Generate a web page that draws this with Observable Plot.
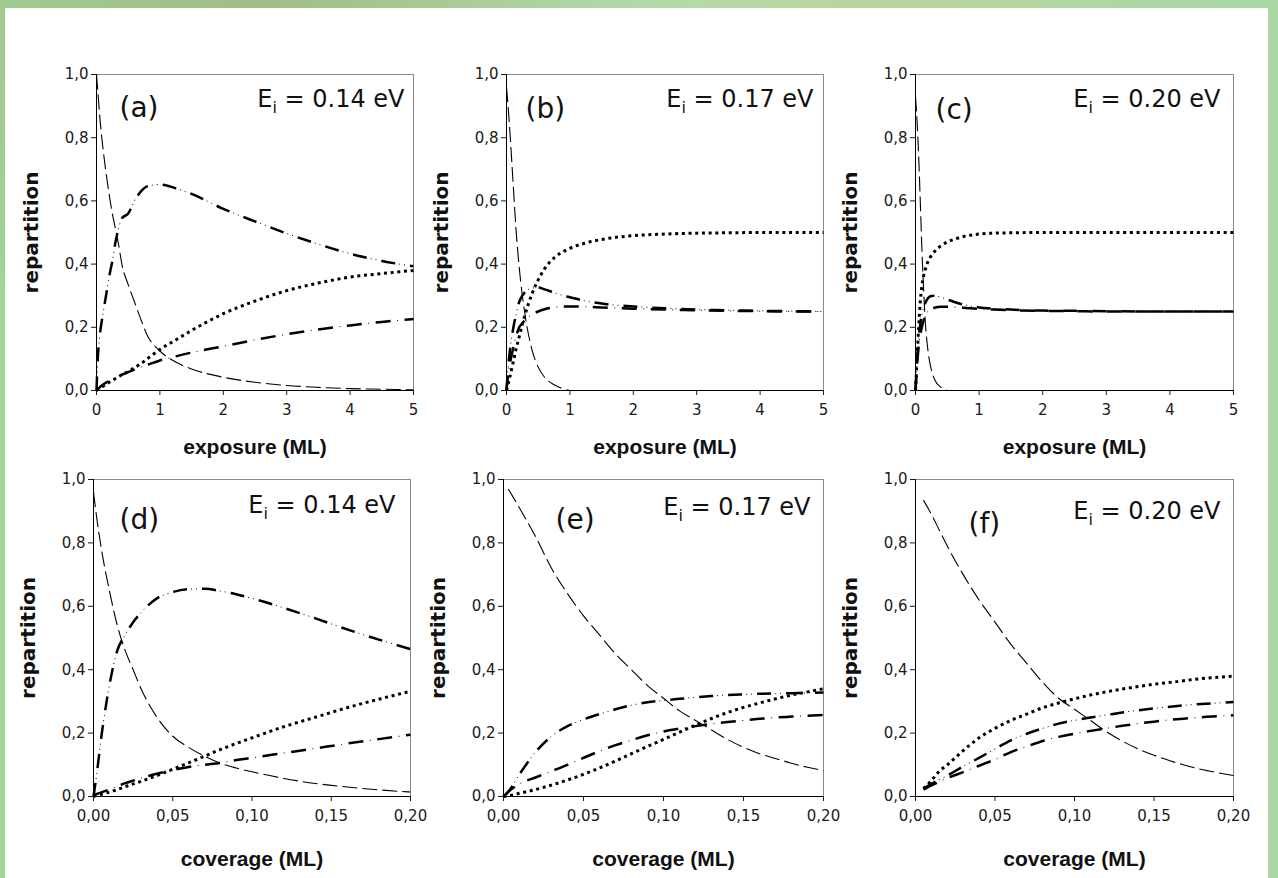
<!DOCTYPE html>
<html><head><meta charset="utf-8">
<script src="https://cdn.jsdelivr.net/npm/d3@7"></script>
<script src="https://cdn.jsdelivr.net/npm/@observablehq/plot@0.6"></script>
<style>
html,body{margin:0;padding:0;}
body{width:1278px;height:878px;overflow:hidden;
  background:
    radial-gradient(ellipse at 20% 0%, rgba(150,170,110,0.55), rgba(0,0,0,0) 30%),
    radial-gradient(ellipse at 70% 0%, rgba(190,210,150,0.6), rgba(0,0,0,0) 25%),
    linear-gradient(90deg,#a4d39c,#b6dcae 50%,#a8d6a4);}
#page{position:relative;width:1278px;height:878px;overflow:hidden;}
#sheet{position:absolute;left:5px;top:8px;width:1263px;height:870px;background:#fff;}
.panel{position:absolute;}
</style></head>
<body><div id="page"><div id="sheet"></div></div>
<script>
// ---------- labels ----------
const panelTags = ["(a)", "(b)", "(c)", "(d)", "(e)", "(f)"];
const energyValues = ["0.14 eV", "0.17 eV", "0.20 eV", "0.14 eV", "0.17 eV", "0.20 eV"];
const energySymbol = "E", energySub = "i";
const yLabel = "repartition";
const xLabelTop = "exposure (ML)";
const xLabelBottom = "coverage (ML)";
const yTicks = [0, 0.2, 0.4, 0.6, 0.8, 1.0];
const yTickLabels = ["0,0", "0,2", "0,4", "0,6", "0,8", "1,0"];
const xTicksTop = [0, 1, 2, 3, 4, 5];
const xTickLabelsTop = ["0", "1", "2", "3", "4", "5"];
const xTicksBottom = [0, 0.05, 0.10, 0.15, 0.20];
const xTickLabelsBottom = ["0,00", "0,05", "0,10", "0,15", "0,20"];

// ---------- panel (a): exposure, Ei = 0.14 eV ----------
const aX      = [0, 0.02, 0.05, 0.1, 0.15, 0.2, 0.25, 0.3, 0.35, 0.4, 0.5, 0.6, 0.7, 0.8, 1, 1.25, 1.5, 2, 2.5, 3, 3.5, 4, 4.5, 5];
const aDash   = [1.0, 0.95, 0.87, 0.77, 0.69, 0.62, 0.56, 0.51, 0.46, 0.40, 0.335, 0.28, 0.225, 0.175, 0.125, 0.09, 0.068, 0.042, 0.026, 0.016, 0.01, 0.006, 0.004, 0.002];
const aDDD    = [0, 0.1, 0.17, 0.24, 0.3, 0.36, 0.41, 0.47, 0.515, 0.545, 0.56, 0.6, 0.63, 0.646, 0.652, 0.64, 0.622, 0.575, 0.535, 0.497, 0.463, 0.433, 0.41, 0.393];
const aDot    = [0, 0.003, 0.007, 0.013, 0.02, 0.026, 0.032, 0.038, 0.044, 0.05, 0.06, 0.072, 0.085, 0.1, 0.13, 0.16, 0.19, 0.243, 0.283, 0.316, 0.34, 0.359, 0.37, 0.38];
const aDD     = [0, 0.004, 0.01, 0.018, 0.025, 0.03, 0.035, 0.04, 0.045, 0.05, 0.058, 0.066, 0.074, 0.081, 0.095, 0.108, 0.12, 0.14, 0.16, 0.178, 0.193, 0.206, 0.217, 0.226];

// ---------- panel (b): exposure, Ei = 0.17 eV ----------
const bX      = [0, 0.025, 0.05, 0.1, 0.15, 0.2, 0.25, 0.3, 0.4, 0.5, 0.6, 0.75, 0.9, 1, 1.25, 1.5, 2, 2.5, 3, 3.5, 4, 4.5, 5];
const bDash   = [0.96, 0.9, 0.83, 0.67, 0.51, 0.39, 0.3, 0.23, 0.13, 0.074, 0.042, 0.018, 0.005, 0, null, null, null, null, null, null, null, null, null];
const bDDD    = [0, 0.07, 0.12, 0.19, 0.24, 0.28, 0.3, 0.313, 0.324, 0.326, 0.32, 0.31, 0.3, 0.295, 0.283, 0.275, 0.266, 0.26, 0.256, 0.254, 0.252, 0.251, 0.25];
const bDot    = [0, 0.02, 0.04, 0.085, 0.13, 0.17, 0.21, 0.245, 0.305, 0.35, 0.385, 0.42, 0.44, 0.45, 0.467, 0.478, 0.49, 0.495, 0.498, 0.499, 0.5, 0.5, 0.5];
const bDD     = [0, 0.05, 0.08, 0.13, 0.17, 0.2, 0.213, 0.225, 0.24, 0.25, 0.257, 0.263, 0.266, 0.266, 0.265, 0.263, 0.259, 0.256, 0.254, 0.252, 0.251, 0.25, 0.25];

// ---------- panel (c): exposure, Ei = 0.20 eV ----------
const cX      = [0, 0.025, 0.05, 0.075, 0.1, 0.125, 0.15, 0.2, 0.25, 0.3, 0.4, 0.5, 0.6, 0.75, 1, 1.25, 1.5, 2, 2.5, 3, 4, 5];
const cDash   = [0.93, 0.85, 0.74, 0.6, 0.45, 0.33, 0.23, 0.12, 0.065, 0.035, 0.01, 0, null, null, null, null, null, null, null, null, null, null];
const cDDD    = [0, 0.1, 0.17, 0.21, 0.24, 0.26, 0.275, 0.293, 0.299, 0.3, 0.295, 0.288, 0.281, 0.272, 0.263, 0.259, 0.256, 0.253, 0.252, 0.251, 0.25, 0.25];
const cDot    = [0, 0.1, 0.2, 0.28, 0.33, 0.36, 0.38, 0.41, 0.427, 0.44, 0.458, 0.47, 0.478, 0.487, 0.495, 0.498, 0.499, 0.5, 0.5, 0.5, 0.5, 0.5];
const cDD     = [0, 0.08, 0.14, 0.175, 0.2, 0.22, 0.235, 0.252, 0.258, 0.262, 0.265, 0.265, 0.264, 0.262, 0.258, 0.256, 0.254, 0.252, 0.251, 0.25, 0.25, 0.25];

// ---------- panel (d): coverage, Ei = 0.14 eV ----------
const dX      = [0, 0.002, 0.005, 0.01, 0.015, 0.02, 0.025, 0.03, 0.04, 0.05, 0.06, 0.07, 0.08, 0.09, 0.1, 0.12, 0.14, 0.16, 0.18, 0.2];
const dDash   = [0.96, 0.88, 0.78, 0.65, 0.54, 0.46, 0.4, 0.34, 0.25, 0.19, 0.155, 0.127, 0.105, 0.09, 0.078, 0.057, 0.041, 0.03, 0.021, 0.014];
const dDDD    = [0, 0.07, 0.19, 0.35, 0.46, 0.51, 0.55, 0.58, 0.625, 0.645, 0.654, 0.655, 0.648, 0.638, 0.625, 0.595, 0.562, 0.527, 0.495, 0.465];
const dDot    = [0, 0.003, 0.007, 0.014, 0.022, 0.031, 0.04, 0.048, 0.066, 0.086, 0.106, 0.127, 0.148, 0.167, 0.185, 0.22, 0.25, 0.28, 0.307, 0.332];
const dDD     = [0.005, 0.008, 0.013, 0.022, 0.032, 0.042, 0.05, 0.058, 0.072, 0.083, 0.093, 0.1, 0.106, 0.115, 0.122, 0.137, 0.152, 0.167, 0.181, 0.195];

// ---------- panel (e): coverage, Ei = 0.17 eV ----------
const eX      = [0, 0.003, 0.01, 0.02, 0.03, 0.04, 0.05, 0.06, 0.07, 0.08, 0.09, 0.1, 0.11, 0.12, 0.13, 0.14, 0.15, 0.16, 0.17, 0.18, 0.19, 0.2];
const eDash   = [null, 0.97, 0.91, 0.82, 0.72, 0.64, 0.57, 0.51, 0.45, 0.4, 0.35, 0.31, 0.27, 0.24, 0.21, 0.18, 0.155, 0.135, 0.12, 0.105, 0.092, 0.082];
const eDDD    = [0, 0.015, 0.07, 0.14, 0.19, 0.222, 0.243, 0.26, 0.275, 0.288, 0.297, 0.303, 0.308, 0.313, 0.317, 0.32, 0.322, 0.324, 0.325, 0.326, 0.327, 0.328];
const eDot    = [0, 0.002, 0.01, 0.022, 0.036, 0.052, 0.07, 0.09, 0.112, 0.135, 0.158, 0.18, 0.203, 0.225, 0.246, 0.265, 0.281, 0.295, 0.308, 0.32, 0.33, 0.34];
const eDD     = [0, 0.015, 0.04, 0.06, 0.08, 0.1, 0.122, 0.143, 0.162, 0.178, 0.193, 0.205, 0.214, 0.222, 0.229, 0.235, 0.24, 0.245, 0.249, 0.252, 0.255, 0.257];

// ---------- panel (f): coverage, Ei = 0.20 eV ----------
const fX      = [0.005, 0.01, 0.015, 0.02, 0.03, 0.04, 0.05, 0.06, 0.07, 0.08, 0.09, 0.1, 0.11, 0.12, 0.13, 0.14, 0.15, 0.16, 0.17, 0.18, 0.19, 0.2];
const fDash   = [0.935, 0.89, 0.84, 0.79, 0.7, 0.62, 0.55, 0.48, 0.42, 0.36, 0.31, 0.275, 0.24, 0.205, 0.175, 0.15, 0.13, 0.113, 0.098, 0.085, 0.075, 0.066];
const fDDD    = [0.025, 0.04, 0.053, 0.066, 0.095, 0.122, 0.15, 0.177, 0.198, 0.215, 0.23, 0.24, 0.249, 0.257, 0.265, 0.272, 0.278, 0.283, 0.288, 0.292, 0.295, 0.298];
const fDot    = [0.025, 0.05, 0.08, 0.1, 0.145, 0.185, 0.215, 0.24, 0.26, 0.28, 0.295, 0.308, 0.32, 0.33, 0.339, 0.347, 0.354, 0.36, 0.366, 0.372, 0.376, 0.38];
const fDD     = [0.022, 0.035, 0.047, 0.058, 0.077, 0.097, 0.117, 0.14, 0.158, 0.175, 0.188, 0.198, 0.207, 0.215, 0.223, 0.23, 0.236, 0.242, 0.246, 0.25, 0.253, 0.256];

// ---------- layout ----------
const FONT = "'DejaVu Sans', 'Liberation Sans', sans-serif";
const TITLE_FONT = "'Liberation Sans', Arial, sans-serif";
const ML = 90, MR = 10, MT = 40, MB = 80;

const panels = [
  {x: aX, dash: aDash, ddd: aDDD, dot: aDot, dd: aDD, row: 0, left: 96,  right: 413,  top: 74,  bottom: 390, tag: [23, 33.5], e: [-9, 25]},
  {x: bX, dash: bDash, ddd: bDDD, dot: bDot, dd: bDD, row: 0, left: 506, right: 823,  top: 74,  bottom: 390, tag: [19, 35],   e: [-10, 25]},
  {x: cX, dash: cDash, ddd: cDDD, dot: cDot, dd: cDD, row: 0, left: 915, right: 1233, top: 74,  bottom: 390, tag: [20, 36],   e: [-13, 25]},
  {x: dX, dash: dDash, ddd: dDDD, dot: dDot, dd: dDD, row: 1, left: 93,  right: 410,  top: 479, bottom: 796, tag: [26, 41],   e: [-15, 26]},
  {x: eX, dash: eDash, ddd: eDDD, dot: eDot, dd: eDD, row: 1, left: 503, right: 823,  top: 479, bottom: 796, tag: [52, 41],   e: [-13, 28]},
  {x: fX, dash: fDash, ddd: fDDD, dot: fDot, dd: fDD, row: 1, left: 915, right: 1233, top: 479, bottom: 796, tag: [53, 45],   e: [-13, 32]}
];

const page = document.getElementById("page");

panels.forEach((p, k) => {
  const top = p.row === 0;
  const xTicks = top ? xTicksTop : xTicksBottom;
  const xTickLabels = top ? xTickLabelsTop : xTickLabelsBottom;
  const xDomain = top ? [0, 5] : [0, 0.2];
  const rows = (ys) => p.x.map((x, i) => ({x, y: ys[i]}));
  const common = {x: "x", y: "y", curve: "monotone-x", stroke: "#000", strokeLinecap: "butt"};
  const energyText = energySymbol + energySub + " = " + energyValues[k];

  const svg = Plot.plot({
    width: ML + (p.right - p.left) + MR,
    height: MT + (p.bottom - p.top) + MB,
    marginLeft: ML, marginRight: MR, marginTop: MT, marginBottom: MB,
    style: {background: "none", overflow: "visible", fontFamily: FONT, fontSize: "15px", color: "#1a1a1a"},
    x: {domain: xDomain},
    y: {domain: [0, 1]},
    marks: [
      Plot.frame({stroke: "#8a8a8a"}),
      Plot.axisY({ticks: yTicks, tickFormat: d => yTickLabels[yTicks.indexOf(d)], tickSize: 5, tickPadding: 3, fontSize: 15, label: null}),
      Plot.axisX({ticks: xTicks, tickFormat: d => xTickLabels[xTicks.indexOf(d)], tickSize: 5, tickPadding: 9, fontSize: 15, label: null}),
      // dashed (decay)
      Plot.line(rows(p.dash), {...common, strokeWidth: 1.1, strokeDasharray: "15,5"}),
      // dotted
      Plot.line(rows(p.dot), {...common, strokeWidth: 3, strokeDasharray: "3,3.7"}),
      // dash-dot
      Plot.line(rows(p.dd), {...common, strokeWidth: 2.5, strokeDasharray: "15,14"}),
      Plot.line(rows(p.dd), {...common, strokeWidth: 1, strokeDasharray: "0,21.5,1,6.5"}),
      // dash-dot-dot
      Plot.line(rows(p.ddd), {...common, strokeWidth: 2.5, strokeDasharray: "14,15"}),
      Plot.line(rows(p.ddd), {...common, strokeWidth: 1, strokeDasharray: "0,18,1,4,1,5"}),
      // black axis lines
      Plot.ruleY([0], {stroke: "#000"}),
      Plot.ruleX([xDomain[0]], {stroke: "#000"}),
      // annotations
      Plot.text([panelTags[k]], {frameAnchor: "top-left", dx: p.tag[0], dy: p.tag[1], textAnchor: "start", lineAnchor: "middle", fontSize: 28, fill: "#111"}),
      Plot.text([energyText], {frameAnchor: "top-right", dx: p.e[0], dy: p.e[1], textAnchor: "end", lineAnchor: "middle", fontSize: 24, fill: "#111"}),
      Plot.text([yLabel], {frameAnchor: "left", dx: -65, rotate: -90, textAnchor: "middle", lineAnchor: "middle", fontSize: 20, fontWeight: "bold", fill: "#111"}),
      Plot.text([top ? xLabelTop : xLabelBottom], {frameAnchor: "bottom", dy: top ? 57 : 63, textAnchor: "middle", lineAnchor: "middle", fontFamily: TITLE_FONT, fontSize: 21, fontWeight: "bold", fill: "#111"})
    ]
  });

  // subscript for E_i
  d3.select(svg).selectAll("text").each(function() {
    if (this.textContent === energyText) {
      const t = d3.select(this);
      t.text(null);
      t.append("tspan").text(energySymbol);
      t.append("tspan").attr("font-size", 16).attr("dy", 6).text(energySub);
      t.append("tspan").attr("dy", -6).text(" = " + energyValues[k]);
    }
  });

  const wrap = document.createElement("div");
  wrap.className = "panel";
  wrap.style.left = (p.left - ML) + "px";
  wrap.style.top = (p.top - MT) + "px";
  wrap.appendChild(svg);
  page.appendChild(wrap);
});
</script>
</body></html>
